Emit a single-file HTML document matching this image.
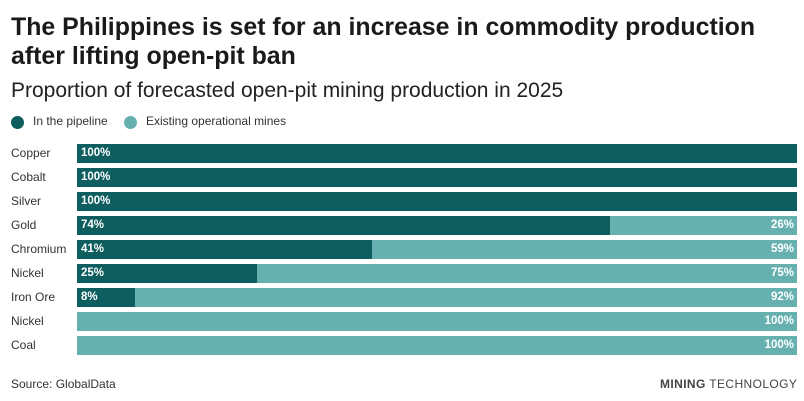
<!DOCTYPE html><html><head><style>
body{margin:0;width:804px;height:401px;background:#fff;font-family:"Liberation Sans",sans-serif;position:relative;overflow:hidden;color:#222}
.t{position:absolute;left:11px;top:13px;font-size:24.9px;font-weight:bold;line-height:29px;color:#1a1a1a}
.s{position:absolute;left:11px;top:79px;font-size:21px;color:#222}
.lg{position:absolute;top:114px;font-size:12px;color:#333}
.dot{position:absolute;top:116px;width:13px;height:13px;border-radius:50%}
.row{position:absolute;left:0;width:804px;height:19px}
.lab{position:absolute;left:11px;top:2px;font-size:12px;color:#333}
.b{position:absolute;top:0;height:19px}
.v{position:absolute;top:3px;font-size:11.5px;font-weight:bold;color:#fff}
.src{position:absolute;left:11px;top:377px;font-size:12px;color:#333}
.mt{position:absolute;left:660px;top:377px;font-size:12px;color:#444;letter-spacing:0.4px}
</style></head><body>
<div class="t">The Philippines is set for an increase in commodity production<br>after lifting open-pit ban</div>
<div class="s">Proportion of forecasted open-pit mining production in 2025</div>
<div class="dot" style="left:11px;background:#0f5e5f"></div><div class="lg" style="left:33px">In the pipeline</div>
<div class="dot" style="left:124px;background:#67b0b0"></div><div class="lg" style="left:146px">Existing operational mines</div>
<div id="rows"></div>
<div class="src">Source: GlobalData</div>
<div class="mt"><b>MINING</b> TECHNOLOGY</div>
<script>
var d=[["Copper",100],["Cobalt",100],["Silver",100],["Gold",74],["Chromium",41],["Nickel",25],["Iron Ore",8],["Nickel",0],["Coal",0]];
var h="";d.forEach(function(r,i){var top=144+i*24,w=720*r[1]/100;
h+='<div class="row" style="top:'+top+'px"><div class="lab">'+r[0]+'</div>';
if(r[1]>0)h+='<div class="b" style="left:77px;width:'+w+'px;background:#0f5e5f"></div><div class="v" style="left:81px">'+r[1]+'%</div>';
if(r[1]<100)h+='<div class="b" style="left:'+(77+w)+'px;width:'+(720-w)+'px;background:#67b0b0"></div><div class="v" style="right:10px">'+(100-r[1])+'%</div>';
h+='</div>';});document.getElementById("rows").innerHTML=h;
</script></body></html>
